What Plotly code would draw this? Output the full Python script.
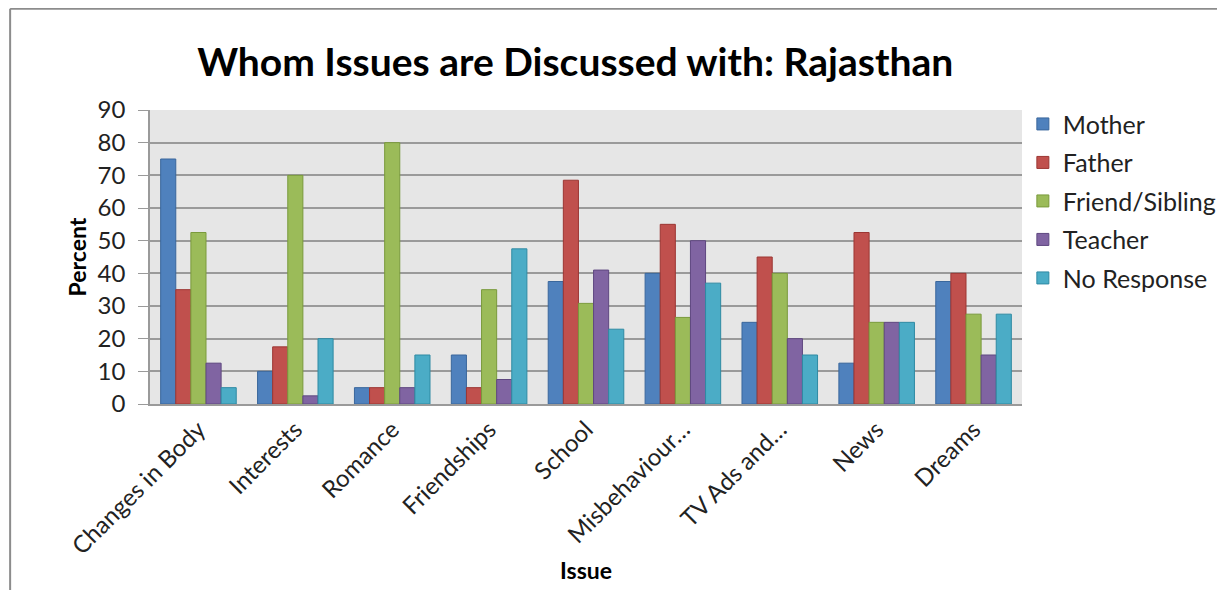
import plotly.graph_objects as go

categories = ["Changes in Body", "Interests", "Romance", "Friendships", "School",
              "Misbehaviour…", "TV Ads and…", "News", "Dreams"]
mother = [75, 10, 5, 15, 37.5, 40, 25, 12.5, 37.5]
father = [35, 17.5, 5, 5, 68.5, 55, 45, 52.5, 40]
friend_sibling = [52.5, 70, 80, 35, 30.8, 26.5, 40, 25, 27.5]
teacher = [12.5, 2.5, 5, 7.5, 41, 50, 20, 25, 15]
no_response = [5, 20, 15, 47.5, 22.9, 37, 15, 25, 27.5]

series = [
    ("Mother", mother, "#4f81bd", "#3a679c"),
    ("Father", father, "#c0504d", "#9c3633"),
    ("Friend/Sibling", friend_sibling, "#9bbb59", "#7a9a3c"),
    ("Teacher", teacher, "#8064a2", "#5f4880"),
    ("No Response", no_response, "#4bacc6", "#2f8aa3"),
]

FONT = "Lato, Open Sans, Arial, sans-serif"

fig = go.Figure()
for i, (name, vals, col, edge) in enumerate(series):
    fig.add_trace(go.Bar(
        x=categories, y=vals, name=name, legendgroup=f"g{i}",
        marker=dict(color=col, line=dict(color=edge, width=1)),
    ))

fig.update_layout(
    width=1225, height=590,
    margin=dict(l=142, r=204, t=102, b=194),
    paper_bgcolor="white", plot_bgcolor="#e6e6e6",
    barmode="group", bargap=0.22, bargroupgap=0,
    font=dict(family=FONT, color="#000000"),
    title=dict(text="<b>Whom Issues are Discussed with: Rajasthan</b>",
               x=0.463, xanchor="center", y=0.908, yanchor="middle",
               font=dict(size=39, family=FONT, color="#000")),
    legend=dict(x=1.001, xanchor="left", y=1.03, yanchor="top",
                font=dict(size=25, family=FONT, color="#222"),
                tracegroupgap=3, itemwidth=30, bgcolor="rgba(0,0,0,0)"),
    showlegend=True,
)
fig.update_yaxes(
    range=[0, 90], dtick=10, showgrid=True, gridcolor="#9a9a9a", gridwidth=1.5,
    showline=True, linecolor="#9a9a9a", linewidth=1.5,
    ticks="outside", ticklen=10, tickcolor="#9a9a9a", ticklabelstandoff=8,
    tickfont=dict(size=24, family=FONT, color="#222"),
    title=dict(text="<b>Percent</b>", font=dict(size=23, family=FONT), standoff=5),
    zeroline=False,
)
fig.update_xaxes(
    showline=True, linecolor="#9a9a9a", linewidth=2, mirror=False,
    tickangle=-45, tickfont=dict(size=24, family=FONT, color="#222"),
    title=dict(text="<b>Issue</b>", font=dict(size=23, family=FONT), standoff=4),
)
# outer chart frame (left and top edges)
fig.add_shape(type="line", xref="paper", yref="paper",
              x0=-0.1604, x1=-0.1604, y0=1.344, y1=-0.7, line=dict(color="#8c8c8c", width=2))
fig.add_shape(type="line", xref="paper", yref="paper",
              x0=-0.1604, x1=1.3, y0=1.344, y1=1.344, line=dict(color="#8c8c8c", width=2))

fig.write_html("out.html")
